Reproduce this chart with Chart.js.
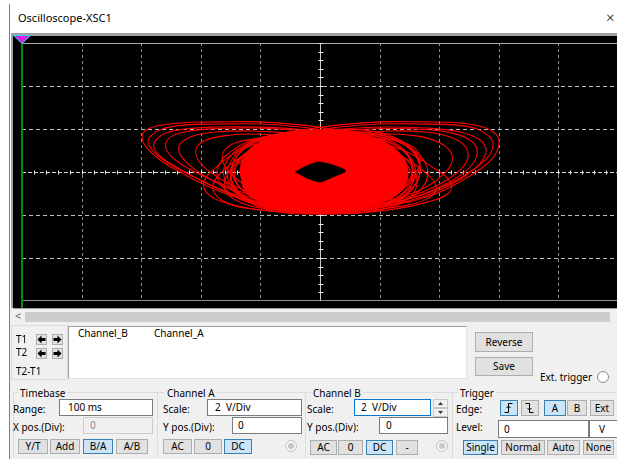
<!DOCTYPE html>
<html>
<head>
<meta charset="utf-8">
<script src="https://cdn.jsdelivr.net/npm/chart.js@4.4.0/dist/chart.umd.min.js"></script>
<style>
  html,body{margin:0;padding:0;}
  body{width:617px;height:459px;overflow:hidden;background:#fff;position:relative;font-family:"Noto Sans",sans-serif;}
  .abs{position:absolute;}
  .t{position:absolute;font-size:10px;line-height:14px;color:#000;white-space:nowrap;}
  .b{position:absolute;box-sizing:border-box;background:#e1e1e1;border:1px solid #adadad;font-size:10px;text-align:center;color:#000;white-space:nowrap;}
  .b.on{background:#cce4f7;border-color:#3c7fb1;}
  .in{position:absolute;box-sizing:border-box;background:#fff;border:1px solid #7a7a7a;font-size:10px;color:#000;white-space:nowrap;}
  .grp{position:absolute;box-sizing:border-box;border:1px solid #dcdcdc;}
  .lbl{background:#f0f0f0;padding:0 2px;}
</style>
</head>
<body>
<!-- window frame -->
<div class="abs" style="left:9px;top:4px;width:1px;height:455px;background:#3a8ee6;"></div>
<div class="t" style="left:18px;top:11px;font-size:11px;">Oscilloscope-XSC1</div>
<div class="t" style="left:606px;top:8px;font-size:15px;line-height:18px;font-weight:300;">×</div>

<!-- scope screen -->
<div class="abs" style="left:11px;top:33px;width:606px;height:277px;background:#a0a0a0;"></div>
<div class="abs" style="left:13px;top:36px;width:604px;height:272px;background:#000;"></div>
<canvas id="scope" width="596" height="258" style="position:absolute;left:22px;top:43px;"></canvas>
<div class="abs" style="left:21px;top:41px;width:2px;height:267px;background:#0a8a0a;"></div>
<svg class="abs" style="left:13px;top:35px;" width="18" height="9">
  <polygon points="0.5,0.5 17.5,0.5 9,8.5" fill="#e020e0" stroke="#20d8f0" stroke-width="1"/>
</svg>

<!-- panel -->
<div class="abs" style="left:10px;top:308px;width:607px;height:151px;background:#f0f0f0;"></div>
<div class="abs" style="left:13px;top:308px;width:604px;height:1px;background:#a0a0a0;"></div>
<div class="t" style="left:15px;top:309px;font-size:11px;color:#606060;">&lt;</div>
<div class="abs" style="left:25px;top:312px;width:585px;height:10px;background:#cdcdcd;"></div>

<div class="grp" style="left:11px;top:325px;width:57px;height:55px;"></div>
<div class="t" style="left:16px;top:332px;">T1</div>
<div class="t" style="left:16px;top:345px;">T2</div>
<div class="t" style="left:16px;top:364px;">T2-T1</div>
<div class="b" style="left:36px;top:334px;width:11px;height:11px;"><svg width="9" height="9" style="display:block"><polygon points="0.5,4.5 4.5,0.5 4.5,3 8.5,3 8.5,6 4.5,6 4.5,8.5" fill="#000"/></svg></div>
<div class="b" style="left:52px;top:334px;width:11px;height:11px;"><svg width="9" height="9" style="display:block"><polygon points="8.5,4.5 4.5,0.5 4.5,3 0.5,3 0.5,6 4.5,6 4.5,8.5" fill="#000"/></svg></div>
<div class="b" style="left:36px;top:348px;width:11px;height:11px;"><svg width="9" height="9" style="display:block"><polygon points="0.5,4.5 4.5,0.5 4.5,3 8.5,3 8.5,6 4.5,6 4.5,8.5" fill="#000"/></svg></div>
<div class="b" style="left:52px;top:348px;width:11px;height:11px;"><svg width="9" height="9" style="display:block"><polygon points="8.5,4.5 4.5,0.5 4.5,3 0.5,3 0.5,6 4.5,6 4.5,8.5" fill="#000"/></svg></div>

<div class="abs" style="left:68px;top:326px;width:399px;height:53px;box-sizing:border-box;background:#fff;border-top:1px solid #a0a0a0;border-left:1px solid #a0a0a0;border-right:1px solid #e3e3e3;border-bottom:1px solid #e3e3e3;"></div>
<div class="t" style="left:78px;top:326px;">Channel_B</div>
<div class="t" style="left:154px;top:326px;">Channel_A</div>

<div class="b" style="left:475px;top:332px;width:58px;height:20px;line-height:18px;">Reverse</div>
<div class="b" style="left:475px;top:357px;width:58px;height:19px;line-height:17px;">Save</div>
<div class="t" style="left:540px;top:370px;">Ext. trigger</div>
<div class="abs" style="left:597px;top:371px;width:12px;height:12px;box-sizing:border-box;border-radius:50%;background:#fff;border:1px solid #8a8a8a;"></div>

<!-- Timebase -->
<div class="grp" style="left:13px;top:392px;width:145px;height:66px;border-bottom:none;"></div>
<div class="t lbl" style="left:18px;top:386px;">Timebase</div>
<div class="t" style="left:13px;top:402px;">Range:</div>
<div class="in" style="left:59px;top:399px;width:94px;height:17px;line-height:15px;padding-left:8px;">100 ms</div>
<div class="t" style="left:13px;top:420px;">X pos.(Div):</div>
<div class="in" style="left:83px;top:417px;width:70px;height:17px;line-height:15px;padding-left:6px;background:#f0f0f0;border-color:#cccccc;color:#8a8a8a;">0</div>
<div class="b" style="left:18px;top:439px;width:30px;height:15px;line-height:13px;">Y/T</div>
<div class="b" style="left:50px;top:439px;width:30px;height:15px;line-height:13px;">Add</div>
<div class="b on" style="left:83px;top:439px;width:30px;height:15px;line-height:13px;">B/A</div>
<div class="b" style="left:116px;top:439px;width:32px;height:15px;line-height:13px;">A/B</div>

<!-- Channel A -->
<div class="grp" style="left:158px;top:392px;width:148px;height:66px;border-bottom:none;border-left:none;"></div>
<div class="t lbl" style="left:165px;top:386px;">Channel A</div>
<div class="t" style="left:163px;top:402px;">Scale:</div>
<div class="in" style="left:207px;top:399px;width:95px;height:17px;line-height:15px;padding-left:7px;">2&nbsp; V/Div</div>
<div class="t" style="left:163px;top:420px;">Y pos.(Div):</div>
<div class="in" style="left:232px;top:417px;width:70px;height:17px;line-height:15px;padding-left:5px;">0</div>
<div class="b" style="left:163px;top:439px;width:29px;height:15px;line-height:13px;">AC</div>
<div class="b" style="left:194px;top:439px;width:28px;height:15px;line-height:13px;">0</div>
<div class="b on" style="left:224px;top:439px;width:28px;height:15px;line-height:13px;">DC</div>
<div class="abs" style="left:285px;top:440px;width:12px;height:12px;box-sizing:border-box;border-radius:50%;background:#f4f4f4;border:1px solid #c4c4c4;"></div>
<div class="abs" style="left:288px;top:443px;width:6px;height:6px;border-radius:50%;background:#c8c8c8;"></div>

<!-- Channel B -->
<div class="grp" style="left:306px;top:392px;width:147px;height:66px;border-bottom:none;border-left:none;"></div>
<div class="t lbl" style="left:311px;top:386px;">Channel B</div>
<div class="t" style="left:307px;top:402px;">Scale:</div>
<div class="in" style="left:354px;top:399px;width:77px;height:17px;line-height:15px;padding-left:6px;border-color:#0078d7;">2&nbsp; V/Div</div>
<div class="b" style="left:433px;top:399px;width:15px;height:9px;background:#f0f0f0;border-color:#c8c8c8;"><svg width="13" height="7" style="display:block"><polygon points="4,5 9,5 6.5,2" fill="#333"/></svg></div>
<div class="b" style="left:433px;top:408px;width:15px;height:9px;background:#f0f0f0;border-color:#c8c8c8;"><svg width="13" height="7" style="display:block"><polygon points="4,2 9,2 6.5,5" fill="#333"/></svg></div>
<div class="t" style="left:307px;top:420px;">Y pos.(Div):</div>
<div class="in" style="left:379px;top:417px;width:69px;height:17px;line-height:15px;padding-left:6px;">0</div>
<div class="b" style="left:310px;top:440px;width:27px;height:15px;line-height:13px;">AC</div>
<div class="b" style="left:338px;top:440px;width:25px;height:15px;line-height:13px;">0</div>
<div class="b on" style="left:366px;top:440px;width:27px;height:15px;line-height:13px;">DC</div>
<div class="b" style="left:396px;top:440px;width:22px;height:15px;line-height:13px;">-</div>
<div class="abs" style="left:436px;top:440px;width:12px;height:12px;box-sizing:border-box;border-radius:50%;background:#f4f4f4;border:1px solid #c4c4c4;"></div>
<div class="abs" style="left:439px;top:443px;width:6px;height:6px;border-radius:50%;background:#c8c8c8;"></div>

<!-- Trigger -->
<div class="grp" style="left:453px;top:392px;width:170px;height:66px;border-bottom:none;border-left:none;"></div>
<div class="t lbl" style="left:458px;top:386px;">Trigger</div>
<div class="t" style="left:456px;top:402px;">Edge:</div>
<div class="b on" style="left:500px;top:400px;width:18px;height:16px;"><svg width="16" height="14" style="display:block"><polyline points="3.5,11.5 7.5,11.5 7.5,2.5 11.5,2.5" fill="none" stroke="#000" stroke-width="1"/><polyline points="5.5,7 7.5,5 9.5,7" fill="none" stroke="#000" stroke-width="1"/></svg></div>
<div class="b" style="left:521px;top:400px;width:18px;height:16px;"><svg width="16" height="14" style="display:block"><polyline points="3.5,2.5 7.5,2.5 7.5,11.5 11.5,11.5" fill="none" stroke="#000" stroke-width="1"/><polyline points="5.5,7 7.5,9 9.5,7" fill="none" stroke="#000" stroke-width="1"/></svg></div>
<div class="b on" style="left:544px;top:400px;width:22px;height:16px;line-height:14px;">A</div>
<div class="b" style="left:567px;top:400px;width:20px;height:16px;line-height:14px;">B</div>
<div class="b" style="left:590px;top:400px;width:24px;height:16px;line-height:14px;">Ext</div>
<div class="t" style="left:456px;top:420px;">Level:</div>
<div class="in" style="left:498px;top:420px;width:91px;height:18px;line-height:16px;padding-left:5px;">0</div>
<div class="in" style="left:589px;top:420px;width:30px;height:18px;line-height:16px;padding-left:9px;">V</div>
<div class="b on" style="left:463px;top:440px;width:35px;height:15px;line-height:13px;">Single</div>
<div class="b" style="left:501px;top:440px;width:44px;height:15px;line-height:13px;">Normal</div>
<div class="b" style="left:547px;top:440px;width:33px;height:15px;line-height:13px;">Auto</div>
<div class="b" style="left:583px;top:440px;width:31px;height:15px;line-height:13px;">None</div>

<script>
// Screen scaling: 2 V/Div on both channels, 10 x 6 divisions
const xDivs = [-8, -6, -4, -2, 2, 4, 6, 8];
const yDivs = [-4, -2, 2, 4];
const voltsPerDiv = 2;

// B/A trace (x = Channel A volts, y = Channel B volts)
// solid dense core of the attractor
const coreBody = [[-2.7,0],[-2.55,0.75],[-2.05,1.35],[-1.2,1.75],[0,1.9],[1.2,1.8],[2.15,1.4],[2.75,0.75],[2.95,0],[2.8,-0.75],[2.25,-1.3],[1.3,-1.65],[0,-1.8],[-1.3,-1.68],[-2.15,-1.3],[-2.6,-0.7]];
// empty eye in the middle of the core
const coreEye = [[-0.84,0],[-0.47,0.28],[-0.07,0.47],[0.44,0.33],[0.87,0.05],[0.44,-0.23],[0,-0.47],[-0.47,-0.28]];

// left wing orbits
const wingL1 = [[0.67,1.95],[-0.67,2.19],[-2.01,2.33],[-3.36,2.33],[-4.70,2.28],[-5.47,2.14],[-5.87,1.91],[-5.97,1.58],[-5.81,1.12],[-5.37,0.56],[-4.70,0],[-3.86,-0.60],[-2.95,-1.12],[-1.95,-1.53],[-0.84,-1.81],[0.34,-1.86],[1.51,-1.53],[2.18,-0.60],[2.01,0.79],[1.34,1.63],[0.67,1.95]];
const wingL2 = [[0.50,1.86],[-0.67,2.09],[-2.01,2.23],[-3.36,2.23],[-4.53,2.19],[-5.30,2.00],[-5.64,1.72],[-5.77,1.40],[-5.57,0.93],[-5.10,0.42],[-4.36,-0.14],[-3.52,-0.70],[-2.62,-1.16],[-1.61,-1.53],[-0.50,-1.72],[0.67,-1.67],[1.68,-1.21],[2.08,-0.28],[1.74,1.02],[0.50,1.86]];
const wingL3 = [[0.34,1.77],[-0.84,2.00],[-2.18,2.09],[-3.52,2.09],[-4.53,2.00],[-5.17,1.81],[-5.50,1.49],[-5.57,1.12],[-5.30,0.65],[-4.77,0.19],[-4.03,-0.37],[-3.19,-0.93],[-2.18,-1.40],[-1.01,-1.67],[0.17,-1.67],[1.28,-1.30],[1.85,-0.37],[1.51,1.02],[0.34,1.77]];
const wingL4 = [[0.30,1.75],[-0.90,1.95],[-2.20,2.05],[-3.50,2.02],[-4.40,1.90],[-4.95,1.68],[-5.17,1.35],[-5.12,0.95],[-4.80,0.50],[-4.20,0.00],[-3.40,-0.50],[-2.50,-1.00],[-1.40,-1.40],[-0.20,-1.60],[1.00,-1.40],[1.70,-0.80],[1.75,0.30],[1.30,1.30],[0.30,1.75]];
const wingL5 = [[0.17,1.58],[-1.01,1.81],[-2.35,1.91],[-3.52,1.86],[-4.26,1.67],[-4.66,1.35],[-4.73,0.93],[-4.46,0.42],[-3.93,-0.14],[-3.19,-0.70],[-2.28,-1.21],[-1.17,-1.53],[0,-1.63],[1.07,-1.30],[1.61,-0.37],[1.28,0.93],[0.17,1.58]];
const wingL6 = [[0,1.49],[-1.17,1.67],[-2.35,1.77],[-3.29,1.67],[-3.89,1.44],[-4.16,1.07],[-4.09,0.56],[-3.69,0],[-3.02,-0.56],[-2.08,-1.07],[-1.01,-1.40],[0.07,-1.44],[1.01,-1.07],[1.34,-0.14],[1.01,0.93],[0,1.49]];
const wingL7 = [[-0.17,1.35],[-1.17,1.53],[-2.18,1.53],[-2.85,1.35],[-3.22,0.98],[-3.26,0.47],[-2.95,-0.14],[-2.35,-0.74],[-1.51,-1.16],[-0.50,-1.35],[0.50,-1.21],[1.07,-0.47],[0.84,0.70],[-0.17,1.35]];
// lower-left lobes
const lobeL1 = [[0,1.6],[-1.5,1.5],[-2.7,1.0],[-3.5,0.2],[-3.9,-0.5],[-3.7,-1.1],[-3.0,-1.5],[-1.8,-1.8],[-0.4,-1.9],[1.0,-1.7],[2.0,-1.0],[2.2,0.2],[1.5,1.2],[0,1.6]];
const lobeL2 = [[0.2,1.4],[-1.3,1.3],[-2.5,0.8],[-3.3,0.0],[-3.6,-0.7],[-3.3,-1.3],[-2.4,-1.7],[-1.0,-1.85],[0.4,-1.75],[1.5,-1.2],[1.9,-0.2],[1.4,0.9],[0.2,1.4]];

// right wing orbits
const wingR1 = [[-0.67,1.95],[0.67,2.19],[2.01,2.33],[3.36,2.33],[4.70,2.28],[5.47,2.09],[5.87,1.81],[6.01,1.40],[5.87,0.79],[5.47,0.23],[4.80,-0.37],[4.03,-0.93],[3.12,-1.35],[2.11,-1.63],[1.01,-1.81],[-0.17,-1.81],[-1.34,-1.44],[-1.95,-0.51],[-1.74,0.79],[-1.17,1.63],[-0.67,1.95]];
const wingR2 = [[-0.50,1.86],[0.67,2.09],[2.01,2.23],[3.36,2.23],[4.53,2.19],[5.27,2.00],[5.67,1.67],[5.81,1.26],[5.64,0.70],[5.17,0.14],[4.46,-0.47],[3.62,-0.98],[2.68,-1.35],[1.68,-1.58],[0.50,-1.67],[-0.67,-1.49],[-1.51,-0.84],[-1.61,0.47],[-0.50,1.86]];
const wingR3 = [[-0.34,1.77],[0.84,2.00],[2.18,2.09],[3.52,2.05],[4.53,1.91],[5.20,1.63],[5.54,1.21],[5.50,0.65],[5.10,0.05],[4.43,-0.56],[3.52,-1.12],[2.52,-1.49],[1.34,-1.67],[0.17,-1.63],[-1.01,-1.21],[-1.34,-0.14],[-1.01,1.12],[-0.34,1.77]];
const wingR4 = [[-0.30,1.70],[0.90,1.93],[2.20,2.02],[3.50,1.98],[4.40,1.82],[4.95,1.55],[5.25,1.15],[5.22,0.60],[4.90,0.05],[4.30,-0.50],[3.50,-1.00],[2.50,-1.40],[1.30,-1.62],[0.10,-1.62],[-1.00,-1.30],[-1.50,-0.50],[-1.35,0.60],[-0.90,1.40],[-0.30,1.70]];
const wingR5 = [[-0.17,1.58],[1.01,1.81],[2.35,1.91],[3.52,1.86],[4.36,1.63],[4.83,1.26],[4.97,0.74],[4.77,0.19],[4.26,-0.37],[3.52,-0.88],[2.58,-1.30],[1.51,-1.53],[0.40,-1.53],[-0.67,-1.16],[-1.17,-0.28],[-0.91,0.93],[-0.17,1.58]];
const wingR6 = [[0,1.49],[1.17,1.67],[2.35,1.77],[3.29,1.67],[3.96,1.40],[4.36,0.98],[4.43,0.47],[4.16,-0.09],[3.62,-0.65],[2.85,-1.12],[1.85,-1.40],[0.74,-1.44],[-0.34,-1.12],[-0.84,-0.23],[-0.60,0.88],[0,1.49]];
const wingR7 = [[0.17,1.35],[1.17,1.53],[2.18,1.53],[2.85,1.35],[3.26,0.98],[3.36,0.47],[3.12,-0.19],[2.52,-0.74],[1.61,-1.16],[0.60,-1.30],[-0.40,-1.07],[-0.94,-0.28],[-0.74,0.79],[0.17,1.35]];
// lower-right lobes
const lobeR1 = [[0,1.6],[1.5,1.5],[2.8,1.0],[3.8,0.2],[4.4,-0.5],[4.3,-1.0],[3.6,-1.4],[2.4,-1.75],[1.0,-1.9],[-0.4,-1.8],[-1.6,-1.2],[-2.0,-0.1],[-1.4,1.0],[0,1.6]];
const lobeR2 = [[-0.2,1.4],[1.3,1.3],[2.6,0.8],[3.5,0.0],[3.9,-0.7],[3.6,-1.25],[2.7,-1.6],[1.4,-1.8],[0,-1.75],[-1.2,-1.3],[-1.7,-0.3],[-1.3,0.8],[-0.2,1.4]];

// orbits circling the core
const ring1 = [[0.3,1.95],[1.9,1.75],[2.9,1.2],[3.35,0.3],[3.2,-0.6],[2.6,-1.35],[1.4,-1.8],[0,-1.9],[-1.5,-1.75],[-2.6,-1.2],[-3.1,-0.3],[-2.9,0.7],[-2.2,1.45],[-1.0,1.85],[0.3,1.95]];
const ring2 = [[0,1.8],[1.6,1.65],[2.7,1.1],[3.1,0.2],[2.95,-0.7],[2.3,-1.4],[1.1,-1.75],[-0.3,-1.8],[-1.7,-1.6],[-2.7,-1.0],[-3.0,-0.1],[-2.75,0.8],[-2.0,1.45],[-0.9,1.75],[0,1.8]];
const ring3 = [[0.5,1.7],[2.0,1.5],[2.95,0.8],[3.2,-0.1],[2.8,-1.0],[1.8,-1.6],[0.4,-1.85],[-1.1,-1.7],[-2.3,-1.15],[-2.85,-0.35],[-2.7,0.55],[-2.0,1.3],[-0.8,1.65],[0.5,1.7]];
const ring4 = [[-0.2,1.9],[1.3,1.8],[2.5,1.35],[3.05,0.55],[3.0,-0.4],[2.4,-1.2],[1.3,-1.65],[-0.1,-1.75],[-1.5,-1.55],[-2.5,-0.95],[-2.95,-0.05],[-2.7,0.9],[-1.8,1.6],[-0.2,1.9]];
const ring5 = [[0,1.5],[1.7,1.3],[2.8,0.5],[3.1,-0.5],[2.6,-1.3],[1.3,-1.8],[-0.2,-1.95],[-1.6,-1.8],[-2.6,-1.2],[-3.0,-0.4],[-2.7,0.45],[-1.7,1.15],[0,1.5]];
const ring6 = [[-0.5,1.85],[1.0,1.7],[2.1,1.2],[2.6,0.4],[2.5,-0.5],[1.9,-1.25],[0.7,-1.7],[-0.8,-1.8],[-2.2,-1.5],[-3.2,-0.8],[-3.45,0.1],[-3.0,0.95],[-2.0,1.6],[-0.5,1.85]];
const ring7 = [[0.6,1.85],[2.0,1.65],[3.1,1.05],[3.6,0.2],[3.45,-0.7],[2.7,-1.4],[1.4,-1.75],[0,-1.7],[-1.3,-1.4],[-2.1,-0.75],[-2.3,0.1],[-1.9,0.95],[-0.8,1.6],[0.6,1.85]];
const ring8 = [[0.2,2.0],[1.7,1.9],[2.8,1.4],[3.3,0.6],[3.3,-0.3],[2.8,-1.1],[1.8,-1.6],[0.3,-1.8],[-1.2,-1.7],[-2.4,-1.3],[-3.1,-0.6],[-3.2,0.3],[-2.6,1.2],[-1.3,1.8],[0.2,2.0]];
const ring9 = [[-0.4,1.7],[1.1,1.85],[2.4,1.6],[3.2,0.9],[3.3,0.0],[2.7,-0.8],[1.5,-1.4],[0,-1.7],[-1.5,-1.75],[-2.7,-1.4],[-3.2,-0.7],[-2.9,0.3],[-2.0,1.2],[-0.4,1.7]];
const ring10 = [[0.4,1.75],[1.8,1.4],[2.8,0.7],[3.25,-0.3],[3.0,-1.2],[2.0,-1.75],[0.6,-1.95],[-0.9,-1.85],[-2.2,-1.4],[-2.9,-0.6],[-2.9,0.3],[-2.2,1.1],[-0.9,1.6],[0.4,1.75]];

const orbits = [wingL1, wingL2, wingL3, wingL4, wingL5, wingL6, wingL7, lobeL1, lobeL2,
                wingR1, wingR2, wingR3, wingR4, wingR5, wingR6, wingR7, lobeR1, lobeR2,
                ring1, ring2, ring3, ring4, ring5, ring6, ring7, ring8, ring9, ring10];

const toXY = arr => arr.map(p => ({ x: p[0], y: p[1] }));
const TRACE = '#ff0000';

const datasets = [
  { data: toXY(coreEye), order: 0, fill: 'shape', backgroundColor: '#000', borderColor: '#000', borderWidth: 0.5, tension: 0.25 },
  { data: toXY(coreBody), order: 1, fill: 'shape', backgroundColor: TRACE, borderColor: TRACE, borderWidth: 1, tension: 0.4 },
  ...orbits.map(o => ({ data: toXY(o), order: 2, fill: false, borderColor: TRACE, borderWidth: 1.1, tension: 0.4 }))
];

// Graticule: dashed divisions, solid frame, centre axes with 1/5-division ticks
const graticule = {
  id: 'graticule',
  beforeDatasetsDraw(chart) {
    const { ctx, chartArea: a, scales: { x, y } } = chart;
    ctx.save();
    ctx.lineWidth = 1;
    ctx.strokeStyle = '#8c8c8c';
    ctx.setLineDash([3, 3]);
    xDivs.forEach(v => {
      const px = Math.round(x.getPixelForValue(v)) + 0.5;
      ctx.beginPath(); ctx.moveTo(px, a.top); ctx.lineTo(px, a.bottom); ctx.stroke();
    });
    ctx.strokeStyle = '#bdbdbd';
    ctx.setLineDash([4, 3]);
    yDivs.forEach(v => {
      const py = Math.round(y.getPixelForValue(v)) + 0.5;
      ctx.beginPath(); ctx.moveTo(a.left, py); ctx.lineTo(a.right, py); ctx.stroke();
    });
    // frame top and bottom
    ctx.setLineDash([]);
    ctx.strokeStyle = '#a8a8a8';
    const top = Math.round(y.getPixelForValue(3 * voltsPerDiv)) + 0.5;
    const bot = Math.round(y.getPixelForValue(-3 * voltsPerDiv)) - 0.5;
    ctx.beginPath(); ctx.moveTo(a.left, top); ctx.lineTo(a.right, top); ctx.stroke();
    ctx.strokeStyle = '#909090';
    ctx.beginPath(); ctx.moveTo(a.left, bot); ctx.lineTo(a.right, bot); ctx.stroke();
    // centre axes
    const cx = Math.round(x.getPixelForValue(0)) + 0.5;
    const cy = Math.round(y.getPixelForValue(0)) + 0.5;
    ctx.strokeStyle = '#c8c8c8';
    ctx.beginPath(); ctx.moveTo(cx, a.top); ctx.lineTo(cx, a.bottom); ctx.stroke();
    ctx.setLineDash([4, 2]);
    ctx.strokeStyle = '#d8d8d8';
    ctx.beginPath(); ctx.moveTo(a.left, cy); ctx.lineTo(a.right, cy); ctx.stroke();
    ctx.setLineDash([]);
    ctx.strokeStyle = '#e8e8e8';
    for (let v = -5 * voltsPerDiv; v <= 5 * voltsPerDiv + 1e-9; v += voltsPerDiv / 5) {
      const px = Math.round(x.getPixelForValue(v)) + 0.5;
      ctx.beginPath(); ctx.moveTo(px, cy - 2); ctx.lineTo(px, cy + 2); ctx.stroke();
    }
    for (let v = -3 * voltsPerDiv; v <= 3 * voltsPerDiv + 1e-9; v += voltsPerDiv / 5) {
      const py = Math.round(y.getPixelForValue(v)) + 0.5;
      ctx.beginPath(); ctx.moveTo(cx - 2, py); ctx.lineTo(cx + 3, py); ctx.stroke();
    }
    ctx.restore();
  }
};

new Chart(document.getElementById('scope'), {
  type: 'line',
  data: { datasets },
  options: {
    responsive: false,
    animation: false,
    devicePixelRatio: 1,
    layout: { padding: 0 },
    elements: { point: { radius: 0, hoverRadius: 0 } },
    plugins: { legend: { display: false }, tooltip: { enabled: false } },
    events: [],
    scales: {
      x: { type: 'linear', min: -5 * voltsPerDiv, max: 5 * voltsPerDiv, display: false },
      y: { type: 'linear', min: -3 * voltsPerDiv, max: 3 * voltsPerDiv, display: false }
    }
  },
  plugins: [graticule]
});
</script>
</body>
</html>
